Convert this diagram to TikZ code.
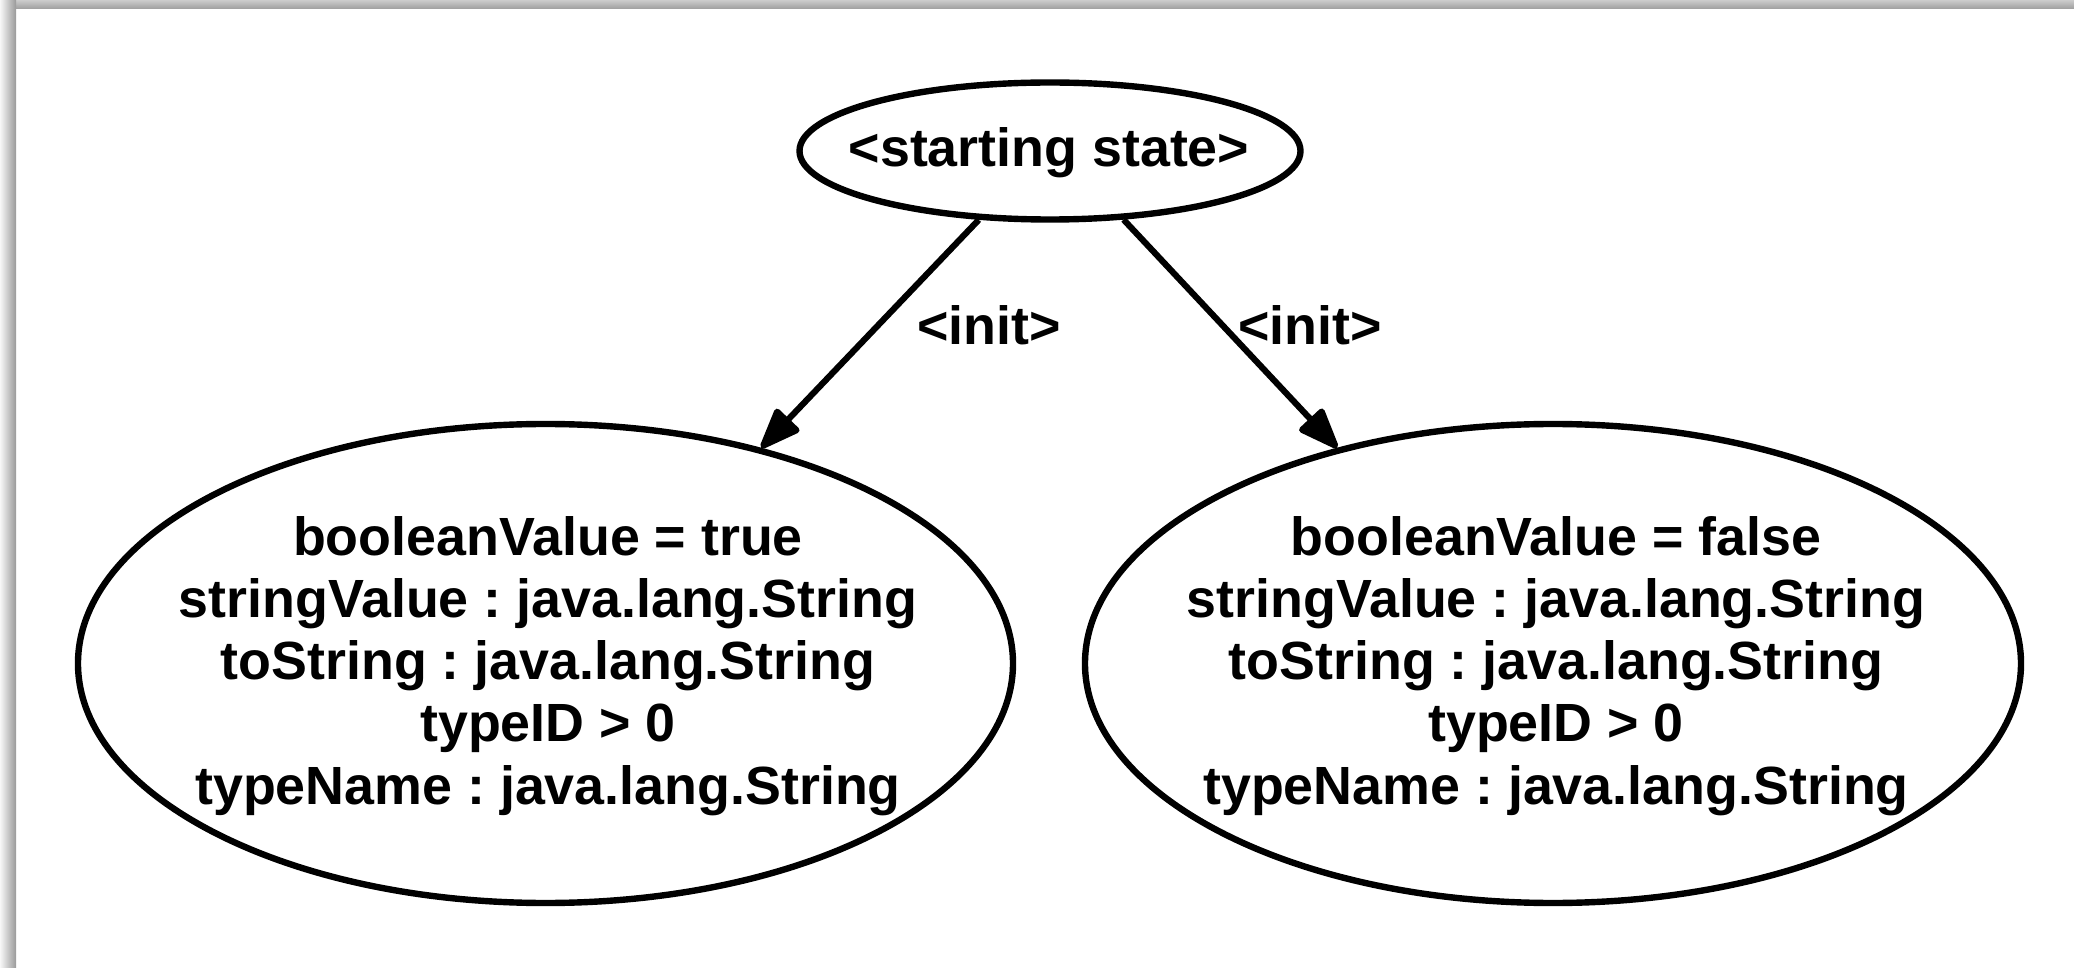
\documentclass[tikz,border=0pt]{standalone}
\usepackage{fontspec}
\setmainfont{Liberation Sans}
\frenchspacing
\usetikzlibrary{arrows.meta,shapes.geometric}
\begin{document}
\begin{tikzpicture}[x=0.5pt,y=-0.5pt,
  state/.style={draw, ellipse, line width=3.2pt, inner sep=0pt},
  txt/.style={font=\fontsize{26.9pt}{31.1pt}\selectfont\bfseries, align=center, inner sep=0pt},
  trans/.style={line width=3.1pt, line join=round,
    -{Triangle[length=23pt,width=17pt,line join=round]}}]

% page and drop shadow along the top and left edges
\fill[white] (0,0) rectangle (2074,968);
\useasboundingbox (0,0) rectangle (2074,968);
\shade[top color=black!20, bottom color=black!38] (16,0) rectangle (2074,9);
\shade[left color=black!3, right color=black!40] (0,0) rectangle (16,968);

% states
\node[state, minimum width=250.5pt, minimum height=68.5pt] (start) at (1050,151) {};
\node[txt] (startT) at (1049,153) {<starting state>};

\node[state, minimum width=467.5pt, minimum height=239.5pt] (sTrue) at (545.5,663.5) {};
\node[txt] (sTrueT) at (548,666) {booleanValue = true\\
  stringValue : java.lang.String\\
  toString : java.lang.String\\
  typeID > 0\\
  typeName : java.lang.String};

\node[state, minimum width=468pt, minimum height=239.5pt] (sFalse) at (1553,663.5) {};
\node[txt] (sFalseT) at (1556,666) {booleanValue = false\\
  stringValue : java.lang.String\\
  toString : java.lang.String\\
  typeID > 0\\
  typeName : java.lang.String};

% transitions
\draw[trans] (start.224.8) -- (sTrue.45);
\draw[trans] (start.317.5) -- (sFalse.135);
\node[txt] (initA) at (989,325) {<init>};
\node[txt] (initB) at (1310,325) {<init>};
\end{tikzpicture}
\end{document}
